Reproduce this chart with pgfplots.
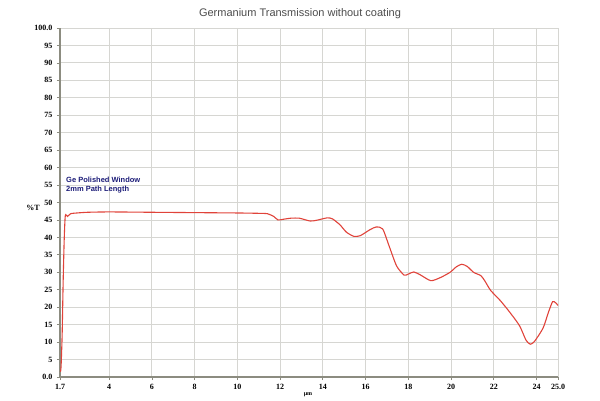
\documentclass[border=0pt]{standalone}
\usepackage{pgfplots}
\pgfplotsset{compat=1.18}
\usepackage{fontspec}
\setmainfont{Liberation Serif}
\newfontfamily\sans{Liberation Sans}
\definecolor{gridc}{HTML}{D6D6D2}
\definecolor{axc}{HTML}{8C8C80}
\definecolor{curve}{HTML}{E0433A}
\definecolor{navy}{HTML}{1C1C78}
\begin{document}
\begin{tikzpicture}[x=1pt,y=1pt]
\useasboundingbox (0,0) rectangle (600,400);
\begin{axis}[
  at={(60pt,23pt)}, anchor=south west,
  scale only axis, width=498pt, height=349pt,
  xmin=1.7, xmax=25, ymin=0, ymax=100,
  axis x line*=bottom, axis y line*=left,
  axis line style={axc, line width=1.6pt, -},
  xtick={1.7,4,6,8,10,12,14,16,18,20,22,24,25},
  xticklabels={1.7,4,6,8,10,12,14,16,18,20,22,24,25.0},
  ytick={0,5,...,100},
  yticklabels={0.0,5,10,15,20,25,30,35,40,45,50,55,60,65,70,75,80,85,90,95,100.0},
  grid=major,
  major grid style={gridc, line width=0.9pt},
  tick align=outside, major tick length=3pt,
  tick style={axc, line width=0.8pt},
  ticklabel style={font=\fontsize{8}{9}\selectfont\bfseries},
  /pgf/number format/assume math mode=true,
  xticklabel style={yshift=-1pt},
  yticklabel style={xshift=-1pt},
  clip=false,
]
\addplot[curve, line width=1.1pt, smooth, tension=0.4] coordinates {
(1.72,1.5) (1.75,3) (1.80,12) (1.85,28) (1.90,40) (1.95,46.3) (2.05,46.0)
(2.2,46.8) (2.5,47.0) (3,47.2) (4,47.3) (6,47.2) (8,47.1) (10,47.0) (11,46.9)
(11.4,46.8) (11.7,46.0) (11.9,45.0) (12.15,45.2) (12.5,45.5) (12.9,45.5)
(13.4,44.7) (13.7,44.9) (14.2,45.6) (14.45,45.3) (14.8,43.6) (15.1,41.5)
(15.45,40.3) (15.75,40.5) (16.2,42.2) (16.5,43.0) (16.8,42.4) (17.1,37.5)
(17.45,31.8) (17.8,29.2) (18.0,29.5) (18.25,30.1) (18.55,29.3) (19.05,27.6)
(19.5,28.5) (19.95,30.0) (20.25,31.6) (20.5,32.3) (20.75,31.7) (21.05,30.0)
(21.4,29.0) (21.6,27.3) (21.85,24.8) (22.3,21.9) (22.75,18.5) (23.2,14.7)
(23.5,10.6) (23.7,9.4) (23.9,10.2) (24.3,14.0) (24.55,18.5) (24.75,21.6)
(24.9,21.2) (25.0,20.5)
};
\node[anchor=north west, align=left, inner sep=0pt, text=navy,
  font=\sans\fontsize{7.5}{9}\selectfont\bfseries]
  at (axis cs:1.98,57.4) {Ge Polished Window\\2mm Path Length};
\end{axis}
\node[font=\sans\fontsize{11}{13}\selectfont, text=black!70] at (300,386) {Germanium Transmission without coating};
\node[font=\fontsize{8}{9}\selectfont\bfseries] at (33,192) {\%T};
\node[font=\fontsize{6}{7}\selectfont\bfseries] at (308,5) {µm};
\end{tikzpicture}
\end{document}
